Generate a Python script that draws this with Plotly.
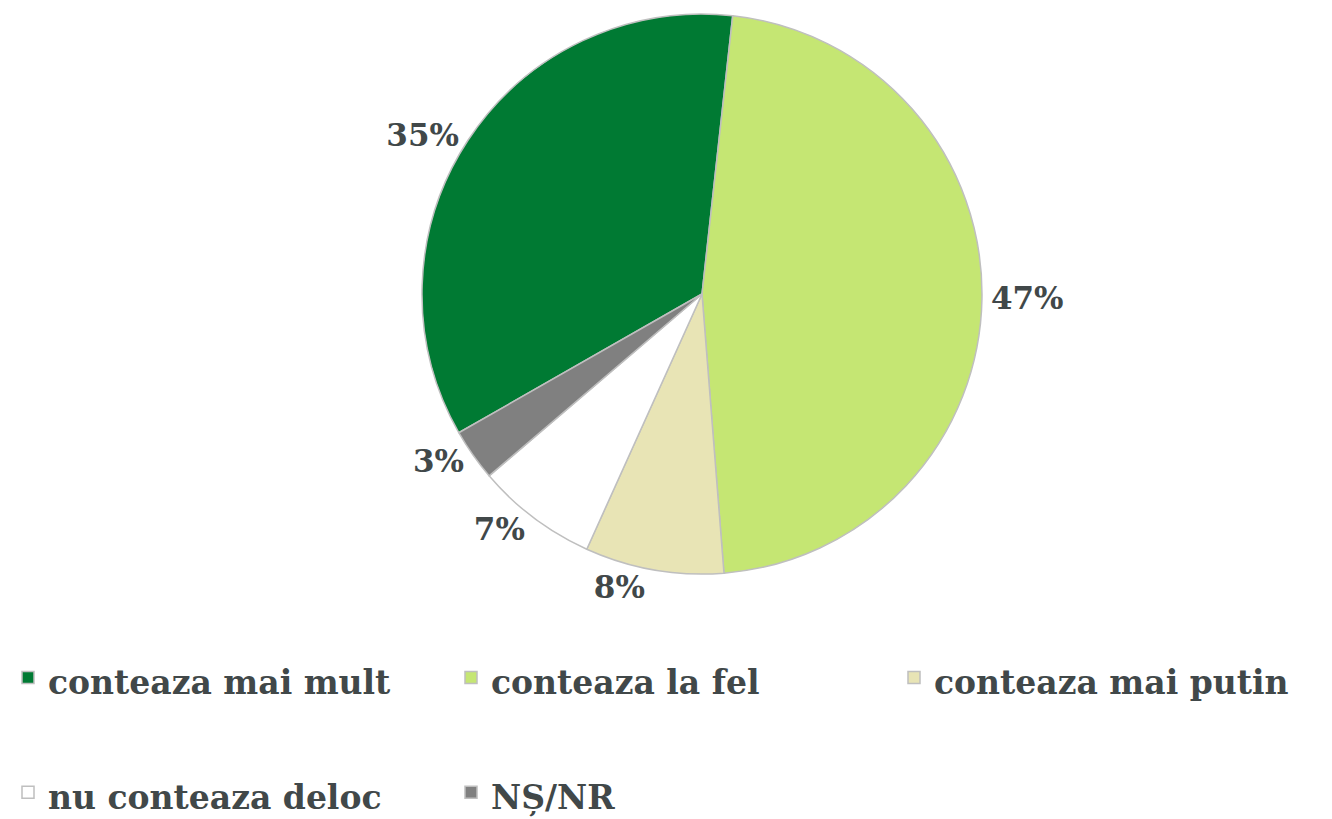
import plotly.graph_objects as go

categories = ["conteaza mai mult", "conteaza la fel", "conteaza mai putin", "nu conteaza deloc", "NȘ/NR"]
values = [35, 47, 8, 7, 3]
colors = ["#007A33", "#C5E673", "#E8E4B5", "#FFFFFF", "#808080"]

TEXT = "#414849"
FONT = "DejaVu Serif"

# legend text at 33px inside a taller line so rows are spaced like the original
legend_labels = [
    f"<span style='font-size:33px'><b>{c}</b></span>" + ("<br> " if i < 3 else "")
    for i, c in enumerate(categories)
]

fig = go.Figure(go.Pie(
    labels=legend_labels,
    values=values,
    sort=False,
    direction="clockwise",
    rotation=240.3,
    marker=dict(colors=colors, line=dict(color="#BFBFBF", width=1.5)),
    textposition="outside",
    texttemplate="<b>%{value}%</b>",
    textfont=dict(family=FONT, size=31, color=TEXT),
    domain=dict(x=[414/1332, 974/1332], y=[1-566/819, 1-6/819]),
    hoverinfo="skip",
))

fig.update_layout(
    width=1332, height=819,
    margin=dict(l=0, r=0, t=0, b=0, autoexpand=False),
    paper_bgcolor="white",
    plot_bgcolor="white",
    showlegend=True,
    legend=dict(
        orientation="h",
        x=0.0, xanchor="left",
        y=0, yanchor="bottom",
        bgcolor="rgba(0,0,0,0)",
        font=dict(family=FONT, size=43, color=TEXT),
        entrywidth=398, entrywidthmode="pixels",
        valign="top",
        traceorder="normal",
    ),
)

fig.write_html("out.html")
